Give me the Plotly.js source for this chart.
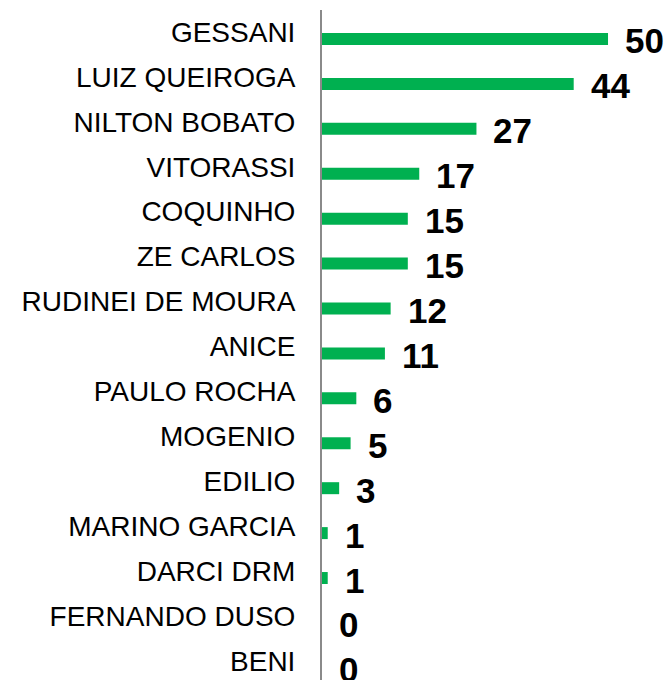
<!DOCTYPE html>
<html>
<head>
<meta charset="utf-8">
<script src="https://cdn.plot.ly/plotly-3.0.1.min.js"></script>
<style>html,body{margin:0;padding:0;background:#fff;}#chart{width:669px;height:680px;}</style>
</head>
<body>
<div id="chart"></div>
<script>
const categories = ["GESSANI","LUIZ QUEIROGA","NILTON BOBATO","VITORASSI","COQUINHO","ZE CARLOS","RUDINEI DE MOURA","ANICE","PAULO ROCHA","MOGENIO","EDILIO","MARINO GARCIA","DARCI DRM","FERNANDO DUSO","BENI"];
const values = [50,44,27,17,15,15,12,11,6,5,3,1,1,0,0];

const trace = {
  type: 'bar',
  orientation: 'h',
  y: categories,
  x: values,
  marker: {color: '#00B050'},
  hoverinfo: 'none'
};

const annotations = categories.map((c, i) => ({
  x: values[i], y: c, xref: 'x', yref: 'y',
  text: String(values[i]),
  showarrow: false,
  xanchor: 'left', yanchor: 'middle',
  xshift: 15, yshift: -2,
  font: {family: 'Liberation Sans, Arial, sans-serif', size: 35, color: '#000', weight: 'bold'}
}));

const layout = {
  width: 669, height: 680,
  margin: {l: 322, r: 0, t: 10, b: 0, pad: 0},
  paper_bgcolor: '#fff', plot_bgcolor: '#fff',
  showlegend: false,
  bargap: 0.733,
  xaxis: {visible: false, range: [0, 60.66], fixedrange: true},
  yaxis: {
    type: 'category',
    range: [14.27, -0.645],
    showgrid: false, zeroline: false,
    showline: true, linecolor: '#8a8a8a', linewidth: 2,
    ticks: '', ticklabelstandoff: 19, ticklabelshift: 7,
    tickfont: {family: 'Liberation Sans, Arial, sans-serif', size: 28, color: '#000'},
    fixedrange: true
  },
  annotations: annotations
};

Plotly.newPlot('chart', [trace], layout, {displayModeBar: false, staticPlot: true});
</script>
</body>
</html>
